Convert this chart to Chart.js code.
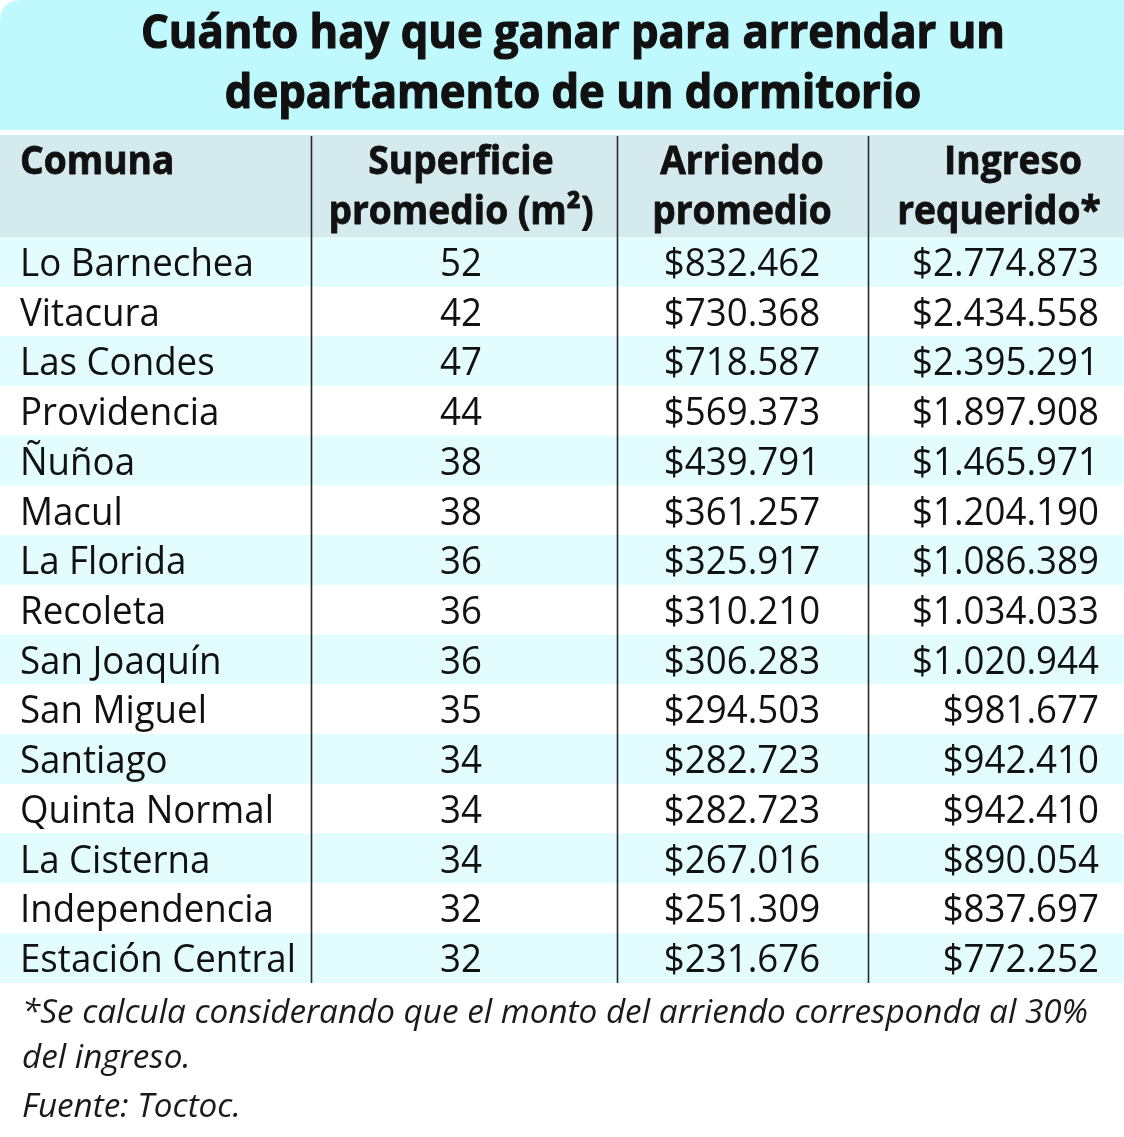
<!DOCTYPE html>
<html>
<head>
<meta charset="utf-8">
<script src="https://cdn.jsdelivr.net/npm/chart.js@4.4.1/dist/chart.umd.min.js"></script>
<style>
  html, body { margin: 0; padding: 0; background: #fff; }
  canvas { display: block; }
</style>
</head>
<body>
<canvas id="tabla" width="1124" height="1137"></canvas>
<script>
// datos de la tabla
var titulo = ['Cuánto hay que ganar para arrendar un', 'departamento de un dormitorio'];
var encabezados = [['Comuna', ''], ['Superficie', 'promedio (m²)'], ['Arriendo', 'promedio'], ['Ingreso', 'requerido*']];
var comunas = ['Lo Barnechea', 'Vitacura', 'Las Condes', 'Providencia', 'Ñuñoa', 'Macul', 'La Florida', 'Recoleta',
    'San Joaquín', 'San Miguel', 'Santiago', 'Quinta Normal', 'La Cisterna', 'Independencia', 'Estación Central'];
var superficie = [52, 42, 47, 44, 38, 38, 36, 36, 36, 35, 34, 34, 34, 32, 32];
var arriendo = [832462, 730368, 718587, 569373, 439791, 361257, 325917, 310210, 306283, 294503, 282723, 282723, 267016, 251309, 231676];
var ingreso = [2774873, 2434558, 2395291, 1897908, 1465971, 1204190, 1086389, 1034033, 1020944, 981677, 942410, 942410, 890054, 837697, 772252];
var notas = ['*Se calcula considerando que el monto del arriendo corresponda al 30%', 'del ingreso.', 'Fuente: Toctoc.'];

// estilo
var ANCHO = 1124;
var divisores = [311, 617, 868];
var colFila = '#e3fcfe';
var colTitulo = '#bff9fd';
var colEncab = '#d5eaec';
var FUENTE = '"Open Sans", "Noto Sans", sans-serif';

function pesos(n) {
    return '$' + String(n).replace(/\B(?=(\d{3})+(?!\d))/g, '.');
}

// escala horizontal para imitar una fuente condensada
function escala(ctx, font, muestra, anchoObjetivo) {
    ctx.font = font;
    return anchoObjetivo / ctx.measureText(muestra).width;
}

function texto(ctx, str, x, y, align, sx, grosor) {
    ctx.save();
    ctx.translate(x, y);
    ctx.scale(sx, 1);
    ctx.textAlign = align;
    ctx.textBaseline = 'alphabetic';
    ctx.fillText(str, 0, 0);
    if (grosor) {
        ctx.lineWidth = grosor;
        ctx.lineJoin = 'round';
        ctx.strokeStyle = ctx.fillStyle;
        ctx.strokeText(str, 0, 0);
    }
    ctx.restore();
}

var tablaPlugin = {
    id: 'tabla',
    beforeDraw: function (chart) {
        var ctx = chart.ctx;
        var xs = chart.scales.x;
        ctx.save();
        ctx.fillStyle = '#fff';
        ctx.fillRect(0, 0, chart.width, chart.height);
        // banda del titulo con esquina redondeada
        var r = 22, x0 = xs.getPixelForValue(0), x1 = xs.getPixelForValue(ANCHO);
        ctx.fillStyle = colTitulo;
        ctx.beginPath();
        ctx.moveTo(x0, 130);
        ctx.lineTo(x0, r);
        ctx.quadraticCurveTo(x0, 0, x0 + r, 0);
        ctx.lineTo(x1, 0);
        ctx.lineTo(x1, 130);
        ctx.closePath();
        ctx.fill();
        // banda de encabezados
        ctx.fillStyle = colEncab;
        ctx.fillRect(x0, 135, x1 - x0, chart.chartArea.top - 135);
        ctx.restore();
    },
    afterDatasetsDraw: function (chart) {
        var ctx = chart.ctx;
        var xs = chart.scales.x, ys = chart.scales.y;
        var area = chart.chartArea;
        ctx.save();
        ctx.fillStyle = '#111';

        // titulo
        var fTit = 'bold 47px ' + FUENTE;
        var sxT = escala(ctx, fTit, titulo[0], 864);
        ctx.font = fTit;
        texto(ctx, titulo[0], xs.getPixelForValue(573), 48, 'center', sxT, 1.2);
        texto(ctx, titulo[1], xs.getPixelForValue(573), 108, 'center', sxT, 1.2);

        // encabezados
        var fEnc = 'bold 39px ' + FUENTE;
        var sxE = escala(ctx, fEnc, encabezados[1][1], 265);
        ctx.font = fEnc;
        var encX = [[20, 20, 'left'], [461, 461, 'center'], [742, 742, 'center'], [1013, 999, 'center']];
        encabezados.forEach(function (h, i) {
            texto(ctx, h[0], xs.getPixelForValue(encX[i][0]), 174, encX[i][2], sxE, 0.8);
            if (h[1]) texto(ctx, h[1], xs.getPixelForValue(encX[i][1]), 224, encX[i][2], sxE, 0.8);
        });

        // celdas
        var fCel = '39px ' + FUENTE;
        var sxC = escala(ctx, fCel, 'Estación Central', 276);
        ctx.font = fCel;
        comunas.forEach(function (c, i) {
            var y = ys.getPixelForValue(i) + 14;
            texto(ctx, c, xs.getPixelForValue(20), y, 'left', sxC);
            texto(ctx, String(superficie[i]), xs.getPixelForValue(461), y, 'center', sxC);
            texto(ctx, pesos(arriendo[i]), xs.getPixelForValue(742), y, 'center', sxC);
            texto(ctx, pesos(ingreso[i]), xs.getPixelForValue(1099), y, 'right', sxC);
        });

        // lineas divisorias
        ctx.strokeStyle = '#2a2a2a';
        ctx.lineWidth = 1.6;
        divisores.forEach(function (d) {
            var px = Math.round(xs.getPixelForValue(d)) + 0.5;
            ctx.beginPath();
            ctx.moveTo(px, 136);
            ctx.lineTo(px, area.bottom);
            ctx.stroke();
        });

        // notas
        var fNota = 'italic 33px ' + FUENTE;
        var sxN = escala(ctx, fNota, notas[0], 1066);
        ctx.font = fNota;
        ctx.fillStyle = '#1a1a1a';
        texto(ctx, notas[0], xs.getPixelForValue(22), 1023, 'left', sxN);
        texto(ctx, notas[1], xs.getPixelForValue(22), 1068, 'left', sxN);
        texto(ctx, notas[2], xs.getPixelForValue(22), 1117, 'left', sxN);
        ctx.restore();
    }
};

var ctx = document.getElementById('tabla').getContext('2d');
window.tablaChart = new Chart(ctx, {
    type: 'bar',
    data: {
        labels: comunas,
        datasets: [{
            // franjas de cada fila, de borde a borde
            data: comunas.map(function () { return [0, ANCHO]; }),
            backgroundColor: comunas.map(function (c, i) { return i % 2 === 0 ? colFila : '#ffffff'; }),
            borderWidth: 0,
            barPercentage: 1,
            categoryPercentage: 1
        }]
    },
    options: {
        indexAxis: 'y',
        responsive: false,
        animation: false,
        devicePixelRatio: 1,
        layout: { padding: { top: 237, bottom: 154, left: 0, right: 0 } },
        plugins: { legend: { display: false }, tooltip: { enabled: false } },
        scales: {
            x: { type: 'linear', min: 0, max: ANCHO, display: false },
            y: { type: 'category', display: false, grid: { display: false } }
        }
    },
    plugins: [tablaPlugin]
});
</script>
</body>
</html>
